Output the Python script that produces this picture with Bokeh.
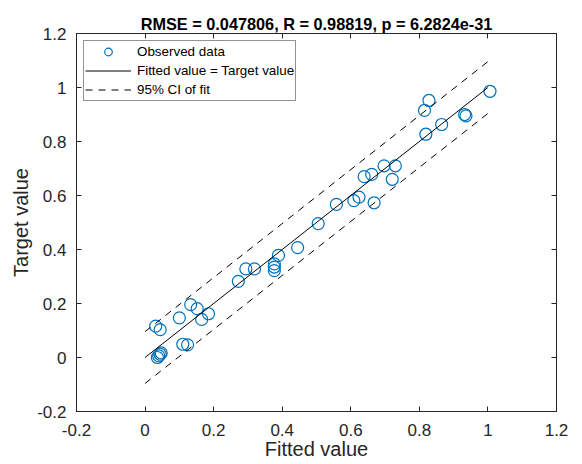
from bokeh.plotting import figure
from bokeh.models import FixedTicker, LinearAxis, Range1d, Legend, LegendItem
from bokeh.embed import file_html
from bokeh.resources import INLINE

# ---- data ----
fitted = [0.031, 0.044, 0.100, 0.133, 0.152, 0.165, 0.185, 0.110, 0.124,
          0.036, 0.040, 0.044, 0.047, 0.272, 0.294, 0.319, 0.377, 0.377,
          0.377, 0.389, 0.445, 0.505, 0.558, 0.609, 0.624, 0.668, 0.639,
          0.661, 0.697, 0.730, 0.721, 0.819, 0.865, 0.932, 0.936, 0.815,
          0.828, 1.006]
target = [0.116, 0.103, 0.147, 0.196, 0.181, 0.141, 0.162, 0.049, 0.047,
          0.000, 0.006, 0.012, 0.017, 0.282, 0.328, 0.328, 0.347, 0.335,
          0.322, 0.378, 0.407, 0.496, 0.567, 0.581, 0.594, 0.573, 0.670,
          0.678, 0.710, 0.710, 0.660, 0.827, 0.863, 0.900, 0.895, 0.915,
          0.952, 0.986]
fit_x = [0.0, 1.0]
ci_half_width = 0.096
tick_values = [-0.2, 0.0, 0.2, 0.4, 0.6, 0.8, 1.0, 1.2]
tick_labels = ["-0.2", "0", "0.2", "0.4", "0.6", "0.8", "1", "1.2"]
title_text = "RMSE = 0.047806, R = 0.98819, p = 6.2824e-31"
x_label = "Fitted value"
y_label = "Target value"
legend_labels = ["Observed data", "Fitted value = Target value", "95% CI of fit"]

FONT = "Liberation Sans"
AX = "#262626"
BLUE = "#0072BD"

fit_y = list(fit_x)
ci_up = [v + ci_half_width for v in fit_x]
ci_lo = [v - ci_half_width for v in fit_x]

p = figure(width=582, height=464, output_backend="svg", toolbar_location=None,
           x_range=Range1d(-0.2, 1.2), y_range=Range1d(-0.2, 1.2),
           min_border_left=76, min_border_right=26, min_border_top=33,
           min_border_bottom=53, background_fill_color="white",
           border_fill_color="white")
p.grid.visible = False
p.outline_line_color = AX
p.outline_line_width = 1

p.title.text = title_text
p.title.align = "center"
p.title.text_font = FONT
p.title.text_font_size = "16.3px"
p.title.text_font_style = "bold"
p.title.text_color = "#000000"
p.title.standoff = 2

overrides = {v: s for v, s in zip(tick_values, tick_labels)}

def style_axis(ax, show_labels=True):
    ax.ticker = FixedTicker(ticks=tick_values)
    ax.major_label_overrides = overrides
    ax.major_tick_in = 5
    ax.major_tick_out = 0
    ax.minor_tick_line_color = None
    ax.axis_line_color = AX
    ax.major_tick_line_color = AX
    ax.major_label_text_font = FONT
    ax.major_label_text_font_size = "17px"
    ax.major_label_text_color = AX
    if not show_labels:
        ax.major_label_text_color = None
        ax.major_label_text_font_size = "1px"
        ax.major_label_standoff = 0

style_axis(p.xaxis[0])
style_axis(p.yaxis[0])
p.xaxis[0].major_label_standoff = 12
p.yaxis[0].major_label_standoff = 10
for ax, lab in ((p.xaxis[0], x_label), (p.yaxis[0], y_label)):
    ax.axis_label = lab
    ax.axis_label_text_font = FONT
    ax.axis_label_text_font_size = "20px"
    ax.axis_label_text_font_style = "normal"
    ax.axis_label_text_color = AX
p.xaxis[0].axis_label_standoff = -1
p.yaxis[0].axis_label_standoff = 2

top_ax = LinearAxis()
style_axis(top_ax, show_labels=False)
top_ax.major_label_text_font_size = "6px"
p.add_layout(top_ax, "above")
right_ax = LinearAxis()
style_axis(right_ax, show_labels=False)
p.add_layout(right_ax, "right")

r_pts = p.scatter(fitted, target, marker="circle", size=12, fill_color=None,
                  line_color=BLUE, line_width=1.2)
r_fit = p.line(fit_x, fit_y, line_color="black", line_width=1)
r_up = p.line(fit_x, ci_up, line_color="black", line_width=1, line_dash="7 6")
r_lo = p.line(fit_x, ci_lo, line_color="black", line_width=1, line_dash="7 6")

legend = Legend(items=[LegendItem(label=legend_labels[0], renderers=[r_pts]),
                       LegendItem(label=legend_labels[1], renderers=[r_fit]),
                       LegendItem(label=legend_labels[2], renderers=[r_up])],
                location="top_left")
legend.margin = 7
legend.padding = 1
legend.spacing = 0
legend.glyph_width = 46
legend.glyph_height = 19
legend.label_height = 19
legend.label_standoff = 6
legend.label_text_font = FONT
legend.label_text_font_size = "13.4px"
legend.label_text_color = "#000000"
legend.border_line_color = AX
legend.border_line_width = 1
legend.background_fill_color = "white"
legend.background_fill_alpha = 1
p.add_layout(legend)

open("out.html", "w").write(file_html(p, INLINE))
